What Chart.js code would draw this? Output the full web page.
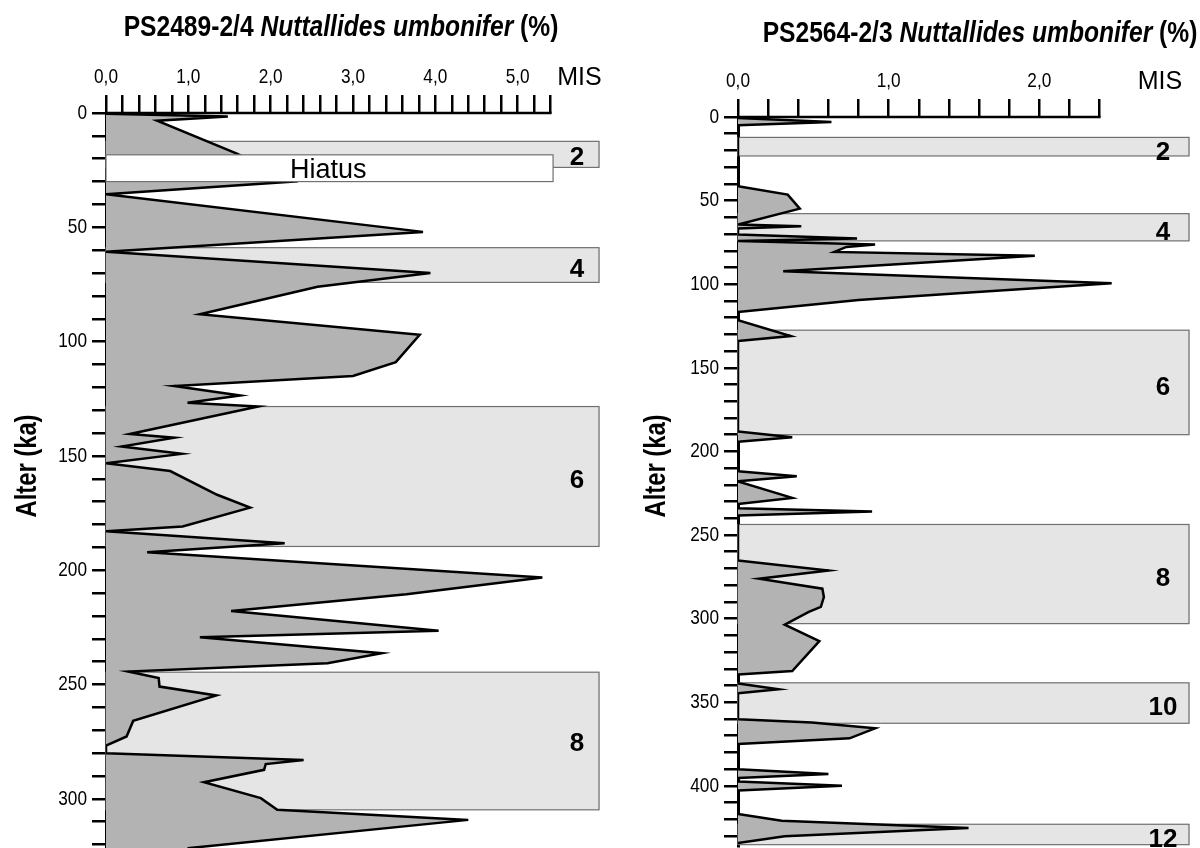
<!DOCTYPE html>
<html lang="de">
<head>
<meta charset="UTF-8">
<title>Nuttallides umbonifer</title>
<script src="https://cdn.jsdelivr.net/npm/chart.js@4.4.1/dist/chart.umd.min.js"></script>
<style>
  html, body { margin: 0; padding: 0; background: #fff; }
  #wrap { position: relative; width: 1200px; height: 848px; overflow: hidden; }
  canvas { position: absolute; top: 0; }
</style>
</head>
<body>
<div id="wrap">
  <canvas id="left" width="610" height="848" style="left:0"></canvas>
  <canvas id="right" width="590" height="848" style="left:610px"></canvas>
</div>
<script>
const FONT = '"Liberation Sans", Arial, sans-serif';
const NARROW = 0.82; // squeeze Liberation Sans to look like Arial Narrow

// PS2489-2/4: age (ka) and N. umbonifer (%)
const ageL = [0.3, 1.5, 3.4, 17.8, 30.0, 35.5, 52.0, 60.7, 70.0, 76.0, 88.0, 97.0, 109.0, 115.0, 119.4,
  123.6, 126.7, 128.4, 140.4, 142.0, 145.9, 149.1, 153.2, 156.6, 167.0, 172.6, 180.9, 183.0, 188.2,
  192.1, 203.2, 210.5, 217.8, 226.5, 229.3, 236.3, 240.7, 244.3, 247.2, 250.9, 254.8, 265.9, 272.7,
  276.7, 280.0, 283.0, 284.8, 287.3, 292.7, 299.7, 304.8, 309.2, 321.6];
const pctL = [0.0, 1.48, 0.62, 1.59, 2.28, 0.0, 3.85, 0.0, 3.94, 2.57, 1.14, 3.81, 3.52, 3.0, 0.83,
  1.63, 0.99, 1.85, 0.29, 0.83, 0.19, 0.92, 0.0, 0.78, 1.35, 1.75, 0.93, 0.0, 2.17,
  0.5, 5.3, 3.65, 1.52, 4.04, 1.14, 3.35, 2.69, 0.27, 0.64, 0.65, 1.34, 0.33, 0.25,
  0.0, 0.0, 2.4, 1.94, 1.92, 1.19, 1.88, 2.08, 4.4, 0.99];
const misLabelsL = ['2', '4', '6', '8'];
const misTopL = [12.4, 58.9, 128.4, 244.6];
const misBaseL = [23.8, 74.1, 189.6, 304.8];
const misTextAgeL = [19, 68, 160, 275];
const hiatusTopL = [18.3];
const hiatusBaseL = [30.0];
const xLabelsL = ['0,0', '1,0', '2,0', '3,0', '4,0', '5,0'];

// PS2564-2/3
const ageR = [0.6, 3.0, 5.0, 41.4, 46.4, 54.8, 64.3, 65.3, 66.7, 70.3, 72.7, 74.1, 76.3, 77.7, 80.7,
  83.0, 92.2, 99.5, 105.4, 109.5, 116.6, 121.6, 131.0, 134.0, 188.1, 191.6, 194.2, 211.9, 214.9, 217.9,
  227.8, 231.4, 234.0, 236.0, 238.4, 265.2, 271.2, 276.1, 282.1, 287.1, 293.0, 296.0, 303.6, 313.5,
  331.4, 333.4, 338.8, 342.3, 344.7, 360.2, 362.2, 365.6, 371.6, 375.0, 390.1, 393.0, 395.4, 397.4,
  400.0, 402.8, 416.9, 420.9, 425.3, 430.2, 434.2];
const pctR = [0, 0.62, 0, 0, 0.33, 0.41, 0, 0.42, 0, 0, 0.79, 0, 0.91, 0.72, 0.64,
  1.97, 0.30, 2.48, 1.46, 0.80, 0, 0, 0.35, 0, 0, 0.36, 0, 0, 0.39, 0,
  0.36, 0, 0, 0.89, 0, 0, 0.60, 0.14, 0.56, 0.57, 0.55, 0.47, 0.31, 0.54,
  0.36, 0, 0, 0.27, 0, 0, 0.49, 0.91, 0.74, 0, 0, 0.60, 0, 0,
  0.69, 0, 0, 0.29, 1.53, 0.31, 0];
const misLabelsR = ['2', '4', '6', '8', '10', '12'];
const misTopR = [12.2, 57.8, 127.5, 243.7, 338.4, 423.0];
const misBaseR = [23.3, 74.1, 190.0, 303.0, 362.6, 435.2];
const misTextAgeR = [20.5, 68, 161, 275, 352, 431];
const xLabelsR = ['0,0', '1,0', '2,0'];

const yLabelStep = 50;

// draw text, optionally squeezed horizontally
function txt(ctx, s, x, y, font, align, sx, base) {
  ctx.save();
  ctx.font = font;
  ctx.textBaseline = base || 'alphabetic';
  const w = ctx.measureText(s).width * sx;
  const x0 = align === 'center' ? x - w / 2 : align === 'right' ? x - w : x;
  ctx.translate(x0, y);
  ctx.scale(sx, 1);
  ctx.textAlign = 'left';
  ctx.fillStyle = '#000';
  ctx.fillText(s, 0, 0);
  ctx.restore();
}

function profileChart(id, o) {
  const decor = {
    id: 'decor',
    beforeDatasetsDraw(chart) {
      const { ctx, scales: { x, y } } = chart;
      ctx.save();
      o.misTop.forEach((t, i) => {
        const x0 = x.getPixelForValue(0), x1 = x.getPixelForValue(o.xMax);
        const y0 = y.getPixelForValue(t), y1 = y.getPixelForValue(o.misBase[i]);
        ctx.fillStyle = '#e5e5e5';
        ctx.fillRect(x0, y0, x1 - x0, y1 - y0);
        ctx.strokeStyle = '#707070';
        ctx.lineWidth = 1.2;
        ctx.strokeRect(x0, y0, x1 - x0 - 1, y1 - y0);
      });
      ctx.restore();
    },
    afterDatasetsDraw(chart) {
      const { ctx, scales: { x, y } } = chart;
      ctx.save();
      (o.hiatusTop || []).forEach((t, i) => {
        const x0 = x.getPixelForValue(0), x1 = x.getPixelForValue(o.hiatusRight);
        const y0 = y.getPixelForValue(t), y1 = y.getPixelForValue(o.hiatusBase[i]);
        ctx.fillStyle = '#fff';
        ctx.fillRect(x0, y0, x1 - x0, y1 - y0);
        ctx.strokeStyle = '#707070';
        ctx.lineWidth = 1.2;
        ctx.strokeRect(x0, y0, x1 - x0, y1 - y0);
        txt(ctx, 'Hiatus', x.getPixelForValue(o.hiatusTextX), (y0 + y1) / 2 + 10, '27px ' + FONT, 'center', 1);
      });
      o.misLabels.forEach((s, i) => {
        txt(ctx, s, x.getPixelForValue(o.misTextX), y.getPixelForValue(o.misTextAge[i]) + 9,
          'bold 26px ' + FONT, 'center', 1);
      });
      // top axis line, only over the scaled part
      ctx.strokeStyle = '#000';
      ctx.lineWidth = 2.5;
      ctx.beginPath();
      ctx.moveTo(x.getPixelForValue(0) - 1, chart.chartArea.top);
      ctx.lineTo(x.getPixelForValue(o.axisMax) + 1, chart.chartArea.top);
      ctx.stroke();
      ctx.restore();
    },
    afterDraw(chart) {
      const { ctx, scales: { x, y }, chartArea } = chart;
      // x tick labels
      o.xLabels.forEach((s, i) => {
        txt(ctx, s, x.getPixelForValue(i), chartArea.top - o.xLabelGap, '21px ' + FONT, 'center', NARROW);
      });
      // y tick labels
      for (let v = 0; v <= o.yMax; v += yLabelStep) {
        txt(ctx, String(v), chartArea.left - 19, y.getPixelForValue(v), '21px ' + FONT, 'right', NARROW, 'middle');
      }
      // y axis title
      ctx.save();
      ctx.translate(o.yTitleX, o.yTitleY);
      ctx.rotate(-Math.PI / 2);
      txt(ctx, 'Alter (ka)', 0, 0, 'bold 29px ' + FONT, 'center', NARROW, 'middle');
      ctx.restore();
      // MIS header
      txt(ctx, 'MIS', x.getPixelForValue(o.misHeadX), chartArea.top - o.xLabelGap + 2, '25px ' + FONT, 'center', 1);
      // title with italic species name
      const parts = [['bold ', o.core + ' '], ['italic bold ', 'Nuttallides umbonifer'], ['bold ', ' (%)']];
      ctx.save();
      let w = 0;
      parts.forEach(p => { ctx.font = p[0] + '30px ' + FONT; w += ctx.measureText(p[1]).width * NARROW; });
      ctx.restore();
      let cx = o.titleX - w / 2;
      parts.forEach(p => {
        txt(ctx, p[1], cx, o.titleY, p[0] + '30px ' + FONT, 'left', NARROW);
        ctx.save();
        ctx.font = p[0] + '30px ' + FONT;
        cx += ctx.measureText(p[1]).width * NARROW;
        ctx.restore();
      });
    }
  };

  const noPad = s => { s.paddingTop = 0; s.paddingBottom = 0; s.paddingLeft = 0; s.paddingRight = 0; };

  return new Chart(document.getElementById(id), {
    type: 'line',
    data: {
      datasets: [{
        data: o.age.map((a, i) => ({ x: o.pct[i], y: a })),
        borderColor: '#000',
        borderWidth: 2.5,
        borderJoinStyle: 'miter',
        backgroundColor: '#b3b3b3',
        fill: 'origin',
        tension: 0,
        pointRadius: 0
      }]
    },
    options: {
      responsive: false,
      animation: false,
      indexAxis: 'y',
      layout: { padding: { left: 0, right: o.padRight, top: 0, bottom: o.padBottom } },
      plugins: { legend: { display: false }, tooltip: { enabled: false } },
      scales: {
        x: {
          type: 'linear', position: 'top', min: 0, max: o.xMax, z: 1,
          afterFit: s => { s.height = o.top; noPad(s); },
          afterBuildTicks: s => {
            const t = [];
            for (let k = 0; k <= Math.round(o.axisMax / 0.2); k++) t.push({ value: +(k * 0.2).toFixed(1) });
            s.ticks = t;
          },
          ticks: { display: false, autoSkip: false },
          grid: { drawOnChartArea: false, tickLength: 18, lineWidth: 2.5, color: '#000' },
          border: { display: false }
        },
        y: {
          type: 'linear', reverse: true, min: 0, max: o.yMax, z: 1,
          afterFit: s => { s.width = o.left; noPad(s); },
          afterBuildTicks: s => {
            const t = [];
            for (let v = 0; v <= o.yMax; v += 10) t.push({ value: v });
            s.ticks = t;
          },
          ticks: { display: false, autoSkip: false },
          grid: { drawOnChartArea: false, tickLength: 14, lineWidth: 2.5, color: '#000' },
          border: { display: true, width: 3, color: '#000' }
        }
      }
    },
    plugins: [decor]
  });
}

profileChart('left', {
  core: 'PS2489-2/4', age: ageL, pct: pctL,
  misLabels: misLabelsL, misTop: misTopL, misBase: misBaseL, misTextAge: misTextAgeL,
  hiatusTop: hiatusTopL, hiatusBase: hiatusBaseL, hiatusRight: 5.43, hiatusTextX: 2.7,
  xLabels: xLabelsL, xMax: 6.0, axisMax: 5.4, yMax: 321.5,
  left: 106, top: 113, padRight: 10, padBottom: 0, xLabelGap: 30,
  misTextX: 5.72, misHeadX: 5.75,
  yTitleX: 28, yTitleY: 466,
  titleX: 341, titleY: 36
});

profileChart('right', {
  core: 'PS2564-2/3', age: ageR, pct: pctR,
  misLabels: misLabelsR, misTop: misTopR, misBase: misBaseR, misTextAge: misTextAgeR,
  xLabels: xLabelsR, xMax: 3.0, axisMax: 2.4, yMax: 436,
  left: 128, top: 117, padRight: 10, padBottom: 2, xLabelGap: 30,
  misTextX: 2.82, misHeadX: 2.80,
  yTitleX: 47, yTitleY: 466,
  titleX: 370, titleY: 42
});
</script>
</body>
</html>
